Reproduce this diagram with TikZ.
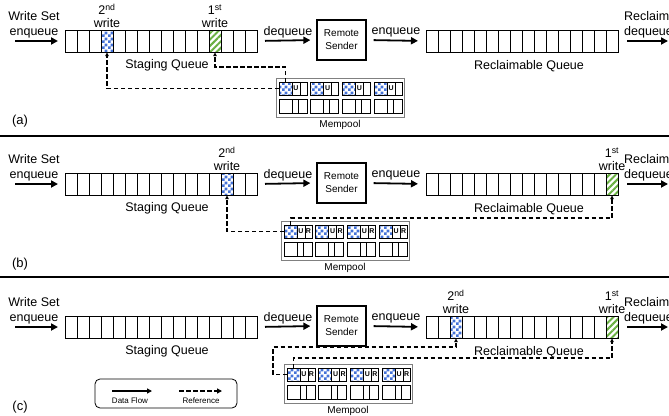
\documentclass[tikz,border=0pt]{standalone}
\usepackage{fontspec}
\setmainfont{Liberation Sans}
\usetikzlibrary{arrows.meta,patterns,patterns.meta}
\definecolor{qblue}{RGB}{68,114,216}
\definecolor{qgreen}{RGB}{106,176,66}
\pgfdeclarepatternformonly{bigchecker}{\pgfpointorigin}{\pgfqpoint{6pt}{6pt}}{\pgfqpoint{6pt}{6pt}}{%
  \pgfpathrectangle{\pgfpointorigin}{\pgfqpoint{3pt}{3pt}}%
  \pgfpathrectangle{\pgfqpoint{3pt}{3pt}}{\pgfqpoint{3pt}{3pt}}%
  \pgfusepath{fill}}
\tikzset{
  cell/.style={draw, line width=1pt, minimum width=12pt, minimum height=22pt, inner sep=0pt, outer sep=0pt},
  mcell/.style={draw, line width=0.7pt, minimum height=13pt, inner sep=0pt, outer sep=0pt, font=\fontsize{7}{8}\selectfont\bfseries},
  pool/.style={draw=gray, line width=1pt, minimum width=128pt, minimum height=39pt, inner sep=0pt},
  blueck/.style={pattern=bigchecker, pattern color=qblue},
  greenln/.style={pattern={Lines[angle=45,distance=4.5pt,line width=2pt]}, pattern color=qgreen},
  flow/.style={line width=1.8pt, -{Triangle[length=7pt,width=7pt]}},
  ref/.style={line width=1.4pt, dash pattern=on 4.5pt off 2.5pt, -{Latex[length=4pt,width=4pt]}},
  lbl/.style={font=\fontsize{12.5}{15}\selectfont, inner sep=1pt},
  wlbl/.style={font=\fontsize{12.5}{13}\selectfont, align=center, anchor=south, inner sep=2pt},
  sender/.style={draw, line width=1.3pt, minimum width=49pt, minimum height=40pt, align=center, font=\fontsize{10}{13}\selectfont}
}
\begin{document}
\begin{tikzpicture}[x=1pt, y=-1pt]
  \useasboundingbox (0,0) rectangle (669,415);
  \clip (0,0) rectangle (669,415);
  % the three panels
  \foreach \off/\lab/\mx/\rt in {0/a/276/{},143/b/281/R,286/c/284/R}{
    \node[lbl, align=center] (ws\lab) at (34,{\off+25}) {Write Set\\enqueue};
    \node[lbl, align=left, anchor=west] (rd\lab) at (623,{\off+25}) {Reclaimable\\dequeue};
    \node[font=\fontsize{13}{15}\selectfont] (pn\lab) at (20,{\off+121}) {(\lab)};
    \foreach \i in {0,...,15}{
      \node[cell] (s\lab\i) at ({71+12*\i},{\off+41}) {};
      \node[cell] (r\lab\i) at ({432+12*\i},{\off+41}) {};
    }
    \node[lbl] (sq\lab) at (167,{\off+65}) {Staging Queue};
    \node[lbl] (rq\lab) at (529,{\off+66}) {Reclaimable Queue};
    \node[sender] (rs\lab) at (341.5,{\off+40}) {Remote\\Sender};
    \node[lbl] (dq\lab) at (288,{\off+32}) {dequeue};
    \node[lbl] (eq\lab) at (396,{\off+32}) {enqueue};
    \coordinate (in\lab) at (15,{\off+41});
    \coordinate (out\lab) at (668,{\off+41});
    \draw[flow, shorten >=7pt] (in\lab) -- (s\lab0.west);
    \draw[flow, shorten <=8pt, shorten >=6pt] (s\lab15.east) -- (rs\lab.west);
    \draw[flow, shorten <=7pt, shorten >=8pt] (rs\lab.east) -- (r\lab0.west);
    \draw[flow, shorten <=9pt] (r\lab15.east) -- (out\lab);
    % mempool
    \node[pool] (p\lab) at ({\mx+64},{\off+97.5}) {};
    \node[font=\fontsize{10}{12}\selectfont, below, inner sep=2.5pt] (ml\lab) at (p\lab.south) {Mempool};
    \foreach \g in {0,...,3}{
      \pgfmathsetmacro{\gx}{\mx+3+31.7*\g}
      \node[mcell, blueck, minimum width=13pt] (m\lab\g) at ({\gx+6.5},{\off+88.5}) {};
      \node[mcell, minimum width=8pt] (u\lab\g) at ({\gx+17},{\off+88.5}) {U};
      \node[mcell, minimum width=7pt] (x\lab\g) at ({\gx+24.5},{\off+88.5}) {\rt};
      \draw[line width=0.7pt] (\gx,{\off+99}) rectangle ({\gx+13},{\off+113})
        ({\gx+13},{\off+99}) rectangle ({\gx+19},{\off+113})
        ({\gx+19},{\off+99}) rectangle ({\gx+28},{\off+113});
    }
  }
  % written entries
  \path[draw, line width=1pt, blueck] (sa3.south west) rectangle (sa3.north east);
  \path[draw, line width=1pt, greenln] (sa12.south west) rectangle (sa12.north east);
  \path[draw, line width=1pt, blueck] (sb13.south west) rectangle (sb13.north east);
  \path[draw, line width=1pt, greenln] (rb15.south west) rectangle (rb15.north east);
  \path[draw, line width=1pt, blueck] (rc2.south west) rectangle (rc2.north east);
  \path[draw, line width=1pt, greenln] (rc15.south west) rectangle (rc15.north east);
  \node[wlbl] (wa2) at (sa3.north) {2\textsuperscript{nd}\\write};
  \node[wlbl] (wa1) at (sa12.north) {1\textsuperscript{st}\\write};
  \node[wlbl] (wb2) at (sb13.north) {2\textsuperscript{nd}\\write};
  \node[wlbl] (wb1) at (rb15.north) {1\textsuperscript{st}\\write};
  \node[wlbl] (wc2) at (rc2.north) {2\textsuperscript{nd}\\write};
  \node[wlbl] (wc1) at (rc15.north) {1\textsuperscript{st}\\write};
  % references from the mempool
  \draw[ref] (ma0.north) -- (ma0.north |- 0,67) -| (sa12.south);
  \draw[ref] (ma0.west) -| (sa3.south);
  \draw[ref] (mb0.west) -| (sb13.south);
  \draw[ref] (mb0.north) -- (mb0.north |- 0,218) -| (rb15.south);
  \draw[ref] (mc0.west) -| (273,347) -| (rc2.south);
  \draw[ref] (mc0.north) -- (mc0.north |- 0,358) -| (rc15.south);
  % separators
  \draw[line width=2pt] (0,136) -- (669,136) (0,277) -- (669,277);
  % legend
  \node[draw, rounded corners=5pt, line width=0.8pt, minimum width=142pt, minimum height=29pt] (key) at (166,393.5) {};
  \coordinate (df1) at (112,391);
  \coordinate (df2) at (152,391);
  \coordinate (rf1) at (179,391);
  \coordinate (rf2) at (222,391);
  \draw[flow, line width=1.3pt, -{Triangle[length=5pt,width=5pt]}] (df1) -- (df2);
  \draw[ref, line width=1.3pt, -{Triangle[length=5pt,width=5pt]}] (rf1) -- (rf2);
  \node[font=\fontsize{8}{10}\selectfont] (dft) at (130,401) {Data Flow};
  \node[font=\fontsize{8}{10}\selectfont] (rft) at (201,401) {Reference};
\end{tikzpicture}
\end{document}
